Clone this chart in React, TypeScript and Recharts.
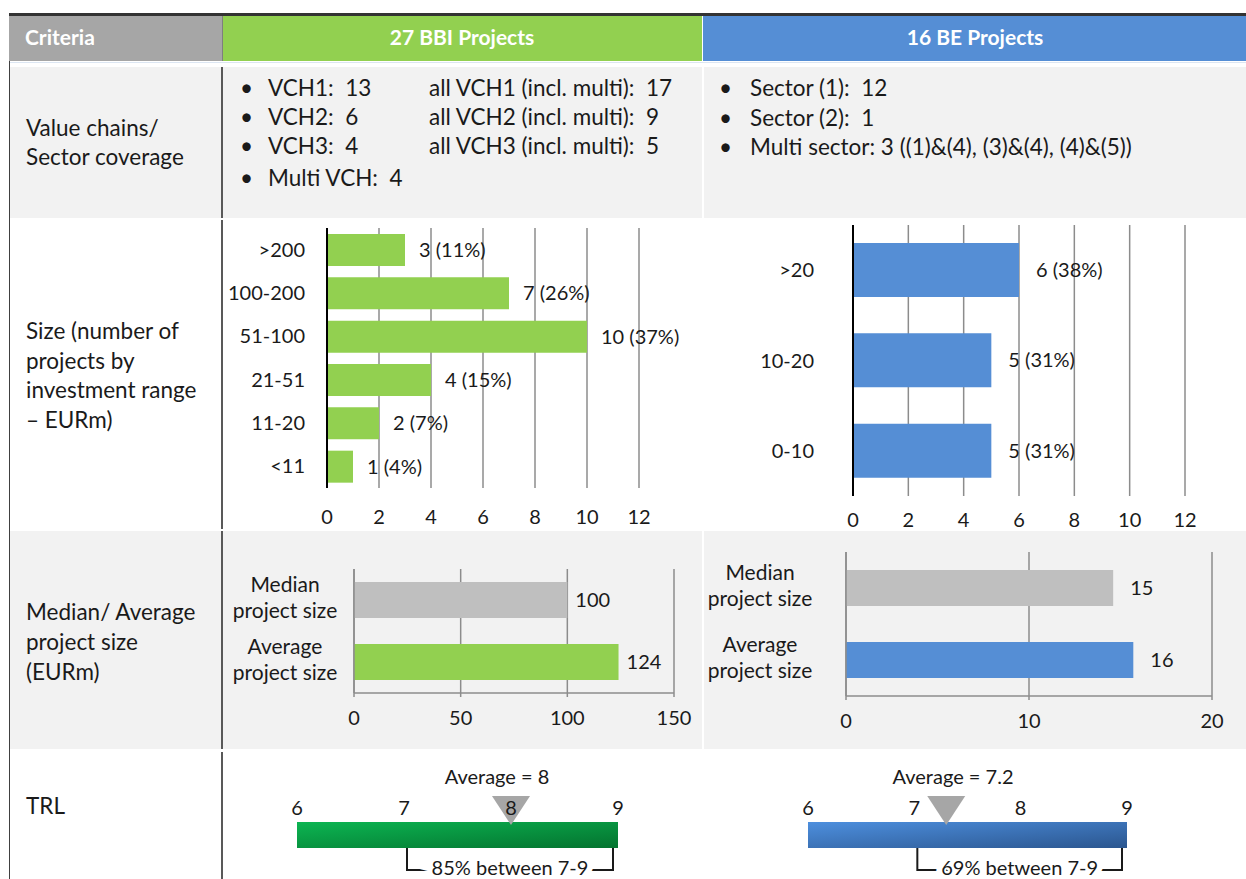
import React from 'react';
import {
  BarChart,
  Bar,
  XAxis,
  YAxis,
  CartesianGrid,
  LabelList,
  Cell,
  ReferenceDot,
  ReferenceArea,
} from 'recharts';

// ---------------- data ----------------
const bbiSizeCategories = ['>200', '100-200', '51-100', '21-51', '11-20', '<11'];
const bbiSizeCounts = [3, 7, 10, 4, 2, 1];
const bbiSizeShares = [11, 26, 37, 15, 7, 4];

const beSizeCategories = ['>20', '10-20', '0-10'];
const beSizeCounts = [6, 5, 5];
const beSizeShares = [38, 31, 31];

const sizeTicks = [0, 2, 4, 6, 8, 10, 12];

const medianCategories = ['Median project size', 'Average project size'];
const bbiMedianValues = [100, 124];
const beMedianValues = [14.6, 15.7];
const bbiMedianTicks = [0, 50, 100, 150];
const beMedianTicks = [0, 10, 20];

const trlTicks = [6, 7, 8, 9];
const bbiTrlAverage = 8;
const beTrlAverage = 7.2;
// marker positions as drawn in the picture
const bbiTrlMarker = 8;
const beTrlMarker = 7.3;
const bbiTrlShare = 85;
const beTrlShare = 69;

const bbiVchLeft = ['VCH1:  13', 'VCH2:  6', 'VCH3:  4', 'Multi VCH:  4'];
const bbiVchRight = ['all VCH1 (incl. multi):  17', 'all VCH2 (incl. multi):  9', 'all VCH3 (incl. multi):  5'];
const beSectors = ['Sector (1):  12', 'Sector (2):  1', 'Multi sector: 3 ((1)&(4), (3)&(4), (4)&(5))'];

const criteriaLabels = [
  ['Value chains/', 'Sector coverage'],
  ['Size (number of', 'projects by', 'investment range', '– EURm)'],
  ['Median/ Average', 'project size', '(EURm)'],
  ['TRL'],
];

// ---------------- styling ----------------
const FONT = 'Lato, "Open Sans", sans-serif';
const TXT = '#1a1a1a';
const GREEN = '#92D050';
const BLUE = '#558ED5';
const GREY_BAR = '#BFBFBF';
const GRID = '#8C8C8C';
const ROW_GREY = '#F2F2F2';
const CHART_FS = 20;
const BODY_FS = 22.5;

type TProps = {
  x: number;
  y: number;
  children: React.ReactNode;
  size?: number;
  color?: string;
  bold?: boolean;
  center?: boolean;
  lh?: number;
};

function T({ x, y, children, size = BODY_FS, color = TXT, bold = false, center = false, lh = 30 }: TProps) {
  const style: React.CSSProperties = {
    position: 'absolute',
    left: x,
    top: y - lh / 2,
    height: lh,
    lineHeight: `${lh}px`,
    fontSize: size,
    color,
    fontWeight: bold ? 700 : 400,
    whiteSpace: 'pre',
    fontFamily: FONT,
  };
  if (center) style.transform = 'translateX(-50%)';
  return <div style={style}>{children}</div>;
}

function Rect({ x, y, w, h, bg }: { x: number; y: number; w: number; h: number; bg: string }) {
  return <div style={{ position: 'absolute', left: x, top: y, width: w, height: h, background: bg }} />;
}

type SizeProps = {
  left: number;
  top: number;
  width: number;
  height: number;
  plotTop: number;
  yWidth: number;
  rightMargin: number;
  categories: string[];
  counts: number[];
  shares: number[];
  color: string;
  barSize: number;
  yTickMargin: number;
  xTickMargin: number;
  labelOffset: number;
};

function SizeChart(p: SizeProps) {
  const data = p.categories.map((name, i) => ({
    name,
    value: p.counts[i],
    label: `${p.counts[i]} (${p.shares[i]}%)`,
  }));
  return (
    <div style={{ position: 'absolute', left: p.left, top: p.top, fontFamily: FONT }}>
      <BarChart
        width={p.width}
        height={p.height}
        data={data}
        layout="vertical"
        margin={{ top: p.plotTop, right: p.rightMargin, bottom: 0, left: 0 }}
        barSize={p.barSize}
      >
        <CartesianGrid horizontal={false} stroke={GRID} strokeWidth={1.5} />
        <XAxis
          type="number"
          domain={[0, 12]}
          ticks={sizeTicks}
          interval={0}
          axisLine={false}
          tickLine={false}
          tickSize={0}
          tickMargin={p.xTickMargin}
          height={40}
          tick={{ fill: TXT, fontSize: CHART_FS }}
        />
        <YAxis
          type="category"
          dataKey="name"
          width={p.yWidth}
          interval={0}
          axisLine={{ stroke: '#000', strokeWidth: 2 }}
          tickLine={false}
          tickSize={0}
          tickMargin={p.yTickMargin}
          tick={{ fill: TXT, fontSize: CHART_FS }}
        />
        <Bar dataKey="value" fill={p.color} isAnimationActive={false}>
          <LabelList dataKey="label" position="right" offset={p.labelOffset} fill={TXT} fontSize={CHART_FS} />
        </Bar>
      </BarChart>
    </div>
  );
}

function CatTick(props: any) {
  const { x, y, payload, dx } = props;
  const words = String(payload.value).split(' ');
  const first = words[0];
  const rest = words.slice(1).join(' ');
  const cx = x + dx;
  return (
    <text x={cx} y={y} textAnchor="middle" fill={TXT} fontSize={21} fontFamily={FONT}>
      <tspan x={cx} dy={-8}>{first}</tspan>
      <tspan x={cx} dy={26}>{rest}</tspan>
    </text>
  );
}

type MedianProps = {
  left: number;
  top: number;
  width: number;
  height: number;
  plotTop: number;
  yWidth: number;
  rightMargin: number;
  values: number[];
  ticks: number[];
  color: string;
  labelDx: number;
  labelOffset: number;
};

function MedianChart(p: MedianProps) {
  const data = medianCategories.map((name, i) => ({
    name,
    value: p.values[i],
    label: String(Math.round(p.values[i])),
  }));
  const colors = [GREY_BAR, p.color];
  return (
    <div style={{ position: 'absolute', left: p.left, top: p.top, fontFamily: FONT }}>
      <BarChart
        width={p.width}
        height={p.height}
        data={data}
        layout="vertical"
        margin={{ top: p.plotTop, right: p.rightMargin, bottom: 0, left: 0 }}
        barSize={36}
      >
        <CartesianGrid horizontal={false} stroke={GRID} strokeWidth={1.5} />
        <XAxis
          type="number"
          domain={[0, p.ticks[p.ticks.length - 1]]}
          ticks={p.ticks}
          interval={0}
          axisLine={{ stroke: GRID, strokeWidth: 1.5 }}
          tickLine={{ stroke: GRID, strokeWidth: 1.5 }}
          tickSize={4}
          tickMargin={14}
          height={40}
          tick={{ fill: TXT, fontSize: CHART_FS }}
        />
        <YAxis
          type="category"
          dataKey="name"
          width={p.yWidth}
          interval={0}
          axisLine={{ stroke: GRID, strokeWidth: 1.5 }}
          tickLine={false}
          tickSize={0}
          tickMargin={0}
          tick={(tp: any) => <CatTick {...tp} dx={p.labelDx} />}
        />
        <Bar dataKey="value" isAnimationActive={false}>
          {data.map((d, i) => (
            <Cell key={d.name} fill={colors[i]} />
          ))}
          <LabelList dataKey="label" position="right" offset={p.labelOffset} fill={TXT} fontSize={CHART_FS} />
        </Bar>
      </BarChart>
    </div>
  );
}

type TrlProps = {
  left: number;
  plotLeft: number;
  plotWidth: number;
  gradId: string;
  from: string;
  to: string;
  marker: number;
  share: number;
};

function TrlChart(p: TrlProps) {
  const data = [{ name: 'TRL', range: [trlTicks[0], trlTicks[trlTicks.length - 1]] }];
  const width = p.plotLeft + p.plotWidth + 40;
  return (
    <div style={{ position: 'absolute', left: p.left, top: 752, fontFamily: FONT }}>
      <BarChart
        width={width}
        height={127}
        data={data}
        layout="vertical"
        margin={{ top: 30, right: 40, bottom: 31, left: p.plotLeft }}
        barCategoryGap={0}
      >
        <defs>
          <linearGradient id={p.gradId} x1="0" y1="0" x2="1" y2="1">
            <stop offset="0%" stopColor={p.from} />
            <stop offset="100%" stopColor={p.to} />
          </linearGradient>
        </defs>
        <YAxis type="category" dataKey="name" hide width={0} />
        <Bar dataKey="range" fill={`url(#${p.gradId})`} isAnimationActive={false} />
        <ReferenceArea
          x1={7}
          x2={9}
          fill="none"
          stroke="none"
          shape={(sp: any) => {
            const yb = sp.y + sp.height;
            const l = sp.x + 3;
            const r = sp.x + sp.width - 5;
            const yl = yb + 22;
            return (
              <g>
                <path d={`M${l},${yb} V${yl} H${r} V${yb}`} fill="none" stroke={TXT} strokeWidth={2} />
                <text
                  x={(l + r) / 2}
                  y={yl + 5}
                  textAnchor="middle"
                  fill={TXT}
                  fontSize={CHART_FS}
                  fontFamily={FONT}
                  stroke="#ffffff"
                  strokeWidth={12}
                  paintOrder="stroke"
                >
                  {`${p.share}% between 7-9`}
                </text>
              </g>
            );
          }}
        />
        <ReferenceDot
          x={p.marker}
          y="TRL"
          r={1}
          shape={(dp: any) => (
            <polygon
              points={`${dp.cx - 19},${dp.cy - 39} ${dp.cx + 19},${dp.cy - 39} ${dp.cx},${dp.cy - 10}`}
              fill="#A6A6A6"
            />
          )}
        />
        <XAxis
          type="number"
          orientation="top"
          domain={[trlTicks[0], trlTicks[trlTicks.length - 1]]}
          ticks={trlTicks}
          interval={0}
          axisLine={false}
          tickLine={false}
          tickSize={0}
          tickMargin={7}
          height={40}
          tick={{ fill: TXT, fontSize: CHART_FS }}
        />
      </BarChart>
    </div>
  );
}

export default function App() {
  const rowLine = (y: number, h: number) => <Rect x={221} y={y} w={2} h={h} bg="#595959" />;
  return (
    <div
      style={{
        position: 'absolute',
        left: 0,
        top: 0,
        width: 1246,
        height: 879,
        background: '#ffffff',
        overflow: 'hidden',
        fontFamily: FONT,
      }}
    >
      {/* header */}
      <Rect x={9} y={13} w={1237} h={3} bg="#333333" />
      <Rect x={9} y={16} w={213} h={45} bg="#A6A6A6" />
      <Rect x={222} y={16} w={1} h={45} bg="#7F7F7F" />
      <Rect x={223} y={16} w={479} h={45} bg={GREEN} />
      <Rect x={703} y={16} w={543} h={45} bg={BLUE} />
      <Rect x={9} y={62} w={1237} h={1} bg="#DCE6F2" />
      <T x={25} y={37} size={21} bold color="#ffffff">Criteria</T>
      <T x={462} y={37} size={21} bold color="#ffffff" center>27 BBI Projects</T>
      <T x={975} y={37} size={21} bold color="#ffffff" center>16 BE Projects</T>

      {/* row backgrounds */}
      <Rect x={10} y={67} w={1236} h={151} bg={ROW_GREY} />
      <Rect x={702} y={67} w={2} h={151} bg="#ffffff" />
      <Rect x={10} y={531} w={1236} h={218} bg={ROW_GREY} />
      <Rect x={702} y={531} w={2} h={218} bg="#ffffff" />

      {/* borders */}
      <Rect x={9} y={61} w={1} h={818} bg="#404040" />
      {rowLine(67, 151)}
      {rowLine(220, 309)}
      {rowLine(531, 218)}
      {rowLine(752, 127)}

      {/* criteria column */}
      {criteriaLabels[0].map((s, i) => (
        <T key={s} x={26} y={128 + i * 29}>{s}</T>
      ))}
      {criteriaLabels[1].map((s, i) => (
        <T key={s} x={26} y={331 + i * 29.7}>{s}</T>
      ))}
      {criteriaLabels[2].map((s, i) => (
        <T key={s} x={26} y={612 + i * 30}>{s}</T>
      ))}
      {criteriaLabels[3].map((s) => (
        <T key={s} x={26} y={806}>{s}</T>
      ))}

      {/* value chains */}
      {bbiVchLeft.map((s, i) => {
        const y = i < 3 ? 88 + i * 29 : 178;
        return (
          <React.Fragment key={s}>
            <T x={240} y={y}>•</T>
            <T x={268} y={y}>{s}</T>
          </React.Fragment>
        );
      })}
      {bbiVchRight.map((s, i) => (
        <T key={s} x={429} y={88 + i * 29}>{s}</T>
      ))}
      {beSectors.map((s, i) => (
        <React.Fragment key={s}>
          <T x={719} y={88 + i * 29.5}>•</T>
          <T x={750} y={88 + i * 29.5}>{s}</T>
        </React.Fragment>
      ))}

      {/* size charts */}
      <SizeChart
        left={226}
        top={218}
        width={101 + 312 + 60}
        height={310}
        plotTop={10}
        yWidth={101}
        rightMargin={60}
        categories={bbiSizeCategories}
        counts={bbiSizeCounts}
        shares={bbiSizeShares}
        color={GREEN}
        barSize={32}
        yTickMargin={22}
        xTickMargin={22}
        labelOffset={14}
      />
      <SizeChart
        left={720}
        top={218}
        width={133 + 332 + 50}
        height={318}
        plotTop={7}
        yWidth={133}
        rightMargin={50}
        categories={beSizeCategories}
        counts={beSizeCounts}
        shares={beSizeShares}
        color={BLUE}
        barSize={54}
        yTickMargin={39}
        xTickMargin={17}
        labelOffset={17}
      />

      {/* median / average charts */}
      <MedianChart
        left={226}
        top={549}
        width={128 + 320 + 30}
        height={184}
        plotTop={20}
        yWidth={128}
        rightMargin={30}
        values={bbiMedianValues}
        ticks={bbiMedianTicks}
        color={GREEN}
        labelDx={-69}
        labelOffset={8}
      />
      <MedianChart
        left={704}
        top={532}
        width={142 + 366 + 30}
        height={204}
        plotTop={20}
        yWidth={142}
        rightMargin={30}
        values={beMedianValues}
        ticks={beMedianTicks}
        color={BLUE}
        labelDx={-86}
        labelOffset={17}
      />

      {/* TRL */}
      <T x={497} y={776} size={20} center>{`Average = ${bbiTrlAverage}`}</T>
      <T x={953} y={776} size={20} center>{`Average = ${beTrlAverage}`}</T>
      <TrlChart
        left={240}
        plotLeft={57}
        plotWidth={321}
        gradId="trlGreen"
        from="#0CB552"
        to="#04732F"
        marker={bbiTrlMarker}
        share={bbiTrlShare}
      />
      <TrlChart
        left={760}
        plotLeft={48}
        plotWidth={319}
        gradId="trlBlue"
        from="#4D8FDE"
        to="#2B568F"
        marker={beTrlMarker}
        share={beTrlShare}
      />
    </div>
  );
}
